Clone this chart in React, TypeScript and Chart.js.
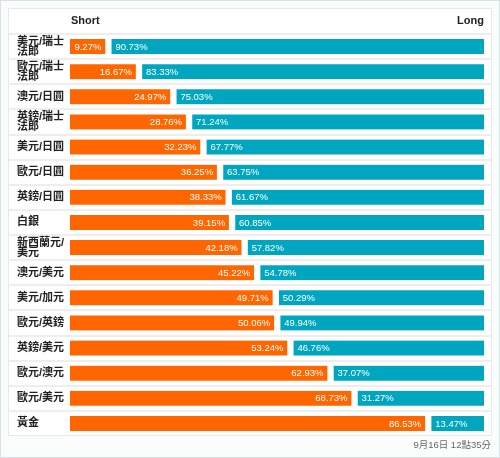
import React, { useEffect, useRef } from "react";
import { Chart, registerables } from "chart.js";

Chart.register(...registerables);

const categories: (string | string[])[] = [
  ["美元/瑞士", "法郎"],
  ["歐元/瑞士", "法郎"],
  "澳元/日圓",
  ["英鎊/瑞士", "法郎"],
  "美元/日圓",
  "歐元/日圓",
  "英鎊/日圓",
  "白銀",
  ["新西蘭元/", "美元"],
  "澳元/美元",
  "美元/加元",
  "歐元/英鎊",
  "英鎊/美元",
  "歐元/澳元",
  "歐元/美元",
  "黃金",
];
const shortValues = [9.27, 16.67, 24.97, 28.76, 32.23, 36.25, 38.33, 39.15, 42.18, 45.22, 49.71, 50.06, 53.24, 62.93, 68.73, 86.53];
const longValues = [90.73, 83.33, 75.03, 71.24, 67.77, 63.75, 61.67, 60.85, 57.82, 54.78, 50.29, 49.94, 46.76, 37.07, 31.27, 13.47];
const headerShort = "Short";
const headerLong = "Long";
const footerText = "9月16日 12點35分";

const ORANGE = "#ff6600";
const TEAL = "#00a6bf";
const LATIN = '"Liberation Sans", Arial, "Noto Sans CJK TC", sans-serif';
const CJK = '"Liberation Sans", "Noto Sans CJK TC", sans-serif';

const framePlugin = {
  id: "frame",
  beforeDraw(chart: any) {
    const ctx = chart.ctx;
    const W = chart.width;
    const H = chart.height;
    ctx.save();
    ctx.fillStyle = "#fbfdfd";
    ctx.fillRect(0, 0, W, H);
    ctx.strokeStyle = "#d3e4e8";
    ctx.lineWidth = 1;
    ctx.strokeRect(0.5, 0.5, W - 1, H - 1);
    // panel
    ctx.fillStyle = "#ffffff";
    ctx.fillRect(8, 8, 484, 428);
    ctx.strokeStyle = "#e6e9ea";
    ctx.strokeRect(8.5, 8.5, 483, 427);
    // separators
    const y = chart.scales.y;
    const n = categories.length;
    ctx.strokeStyle = "#eeeeee";
    ctx.lineWidth = 2;
    for (let i = 0; i < n; i++) {
      const top = i === 0 ? y.getPixelForValue(0) - (y.getPixelForValue(1) - y.getPixelForValue(0)) / 2 : (y.getPixelForValue(i - 1) + y.getPixelForValue(i)) / 2;
      ctx.beginPath();
      ctx.moveTo(9, Math.round(top));
      ctx.lineTo(491, Math.round(top));
      ctx.stroke();
    }
    // header
    const area = chart.chartArea;
    ctx.fillStyle = "#222";
    ctx.font = `bold 11px ${LATIN}`;
    ctx.textBaseline = "middle";
    ctx.textAlign = "left";
    ctx.fillText(headerShort, area.left + 1, 20.5);
    ctx.textAlign = "right";
    ctx.fillText(headerLong, area.right, 20.5);
    // footer
    ctx.fillStyle = "#666";
    ctx.font = `9.5px ${CJK}`;
    ctx.fillText(footerText, 491, 445);
    ctx.restore();
  },
};

const labelPlugin = {
  id: "barLabels",
  afterDatasetsDraw(chart: any) {
    const ctx = chart.ctx;
    ctx.save();
    ctx.font = `9.5px ${LATIN}`;
    ctx.fillStyle = "#ffffff";
    ctx.textBaseline = "middle";
    chart.data.datasets.forEach((ds: any, di: number) => {
      const meta = chart.getDatasetMeta(di);
      meta.data.forEach((el: any, i: number) => {
        const v = ds.data[i];
        const txt = v.toFixed(2) + "%";
        if (di === 0) {
          ctx.textAlign = "right";
          ctx.fillText(txt, el.x - 3.5 - 3.5, el.y + 0.5);
        } else {
          ctx.textAlign = "left";
          ctx.fillText(txt, el.base + 3.5 + 3.5, el.y + 0.5);
        }
      });
    });
    ctx.restore();
  },
};

export default function App() {
  const ref = useRef<HTMLCanvasElement | null>(null);
  useEffect(() => {
    if (!ref.current) return;
    const chart = new Chart(ref.current, {
      type: "bar",
      data: {
        labels: categories,
        datasets: [
          {
            label: headerShort,
            data: shortValues,
            backgroundColor: ORANGE,
            borderColor: "#ffffff",
            borderWidth: { left: 0, right: 3.5, top: 0, bottom: 0 },
            borderSkipped: false,
            barThickness: 15,
          },
          {
            label: headerLong,
            data: longValues,
            backgroundColor: TEAL,
            borderColor: "#ffffff",
            borderWidth: { left: 3.5, right: 0, top: 0, bottom: 0 },
            borderSkipped: false,
            barThickness: 15,
          },
        ],
      },
      options: {
        indexAxis: "y",
        responsive: false,
        animation: false,
        layout: { padding: { left: 17, right: 16, top: 34, bottom: 22 } },
        plugins: { legend: { display: false }, tooltip: { enabled: false } },
        scales: {
          x: { stacked: true, min: 0, max: 100, display: false },
          y: {
            stacked: true,
            grid: { display: false },
            border: { display: false },
            ticks: {
              crossAlign: "far",
              color: "#222",
              font: { family: CJK, size: 11, weight: "bold", lineHeight: 0.9 },
              padding: 0,
            },
            afterFit(scale: any) {
              scale.width = 53;
            },
          },
        },
      } as any,
      plugins: [framePlugin, labelPlugin],
    });
    return () => chart.destroy();
  }, []);
  return (
    <div style={{ position: "fixed", left: 0, top: 0, width: 500, height: 458 }}>
      <canvas ref={ref} width={500} height={458} style={{ display: "block" }} />
    </div>
  );
}
